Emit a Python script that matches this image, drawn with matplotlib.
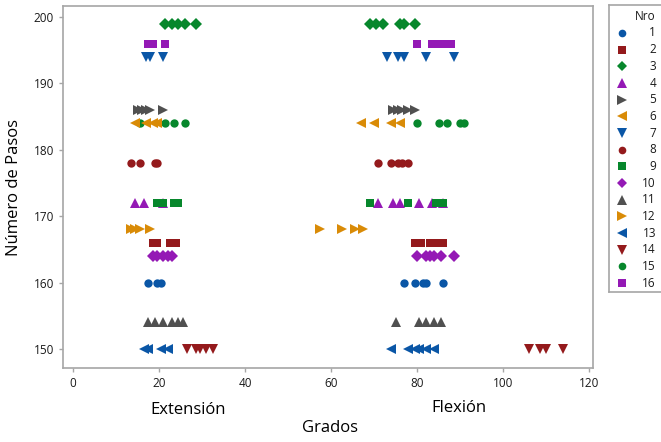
import matplotlib
matplotlib.use("Agg")
import matplotlib.pyplot as plt

plt.rcParams['font.family'] = ['Open Sans', 'DejaVu Sans']

# numero de pasos (eje y) de cada sujeto
nro = list(range(1, 17))
pasos = [160, 166, 199, 172, 186, 184, 194, 178, 172, 164, 154, 168, 150, 150, 184, 196]

# grados de extension y flexion de cada sujeto
extension = [
    [17.5, 19.5, 20.5],
    [18.5, 19.5, 22.5, 24],
    [21.5, 23, 24.5, 26, 28.5],
    [14.5, 16.5, 21],
    [15, 16, 17, 18, 21],
    [14.5, 17, 18.5, 19.5],
    [17, 18, 21],
    [13.5, 15.5, 19, 19.5],
    [19.5, 21, 23.5, 24.5],
    [18.5, 19.5, 21, 22, 23],
    [17.5, 19, 21, 23, 24.5, 25.5],
    [13.5, 14.5, 15.5, 18],
    [16.5, 17.5, 20.5, 22],
    [26.5, 28.5, 29.5, 31, 32.5],
    [15.5, 21.5, 23.5, 26],
    [17.5, 18.5, 21.5],
]
flexion = [
    [77, 79.5, 81.5, 82, 86],
    [79.5, 81, 83, 84.5, 86],
    [69, 70.5, 72, 76, 77, 79.5],
    [71, 74.5, 76, 80.5, 83.5, 86],
    [74.5, 75.5, 76.5, 78, 79.5],
    [67, 70, 74, 76],
    [73, 75.5, 77, 82, 88.5],
    [71, 74, 75.5, 76.5, 78],
    [69, 78, 84.5, 86],
    [80, 82, 83, 84, 85.5, 88.5],
    [75, 80.5, 82, 84, 85.5],
    [57.5, 62.5, 65.5, 67.5],
    [74, 78, 79.5, 80.5, 82, 84],
    [106, 108.5, 110, 114],
    [80, 85, 87, 90, 91],
    [80, 83.5, 85, 86.5, 88],
]

blue, red, green, purple, gray, orange = '#0a56a6', '#941a1c', '#07872c', '#9419b5', '#505050', '#d98b07'
colores = [blue, red, green, purple, gray, orange, blue, red, green, purple, gray, orange, blue, red, green, purple]
marcas = ['o', 's', 'D', '^', '>', '<', 'v', 'o', 's', 'D', '^', '>', '<', 'v', 'o', 's']
tamanos = [6, 6, 6, 7, 7, 7, 7, 6, 6, 6, 7, 7, 7, 7, 6, 6]

fig = plt.figure(figsize=(6.61, 4.42), dpi=100)
ax = fig.add_axes([63 / 661, 1 - 368 / 442, 530 / 661, 362 / 442])

for i in range(16):
    xs = extension[i] + flexion[i]
    ys = [pasos[i]] * len(xs)
    z = 3 if nro[i] == 6 else 2
    ax.plot(xs, ys, linestyle='none', marker=marcas[i], color=colores[i],
            markersize=tamanos[i], markeredgewidth=0, zorder=z)

ax.set_xlim(-2.33, 120.93)
ax.set_ylim(147.14, 201.66)
ax.set_xticks([0, 20, 40, 60, 80, 100, 120])
ax.set_yticks([150, 160, 170, 180, 190, 200])
for s in ax.spines.values():
    s.set_color('#a6a6a6')
    s.set_linewidth(1.2)
ax.tick_params(colors='#a6a6a6', labelcolor='#1a1a1a', labelsize=8.5, length=3, width=1)

ax.set_ylabel('Número de Pasos', fontsize=12, labelpad=8)
fig.text(188 / 661, 1 - 410 / 442, 'Extensión', fontsize=12, ha='center', va='center')
fig.text(459 / 661, 1 - 408 / 442, 'Flexión', fontsize=12, ha='center', va='center')
fig.text(330 / 661, 1 - 428 / 442, 'Grados', fontsize=12, ha='center', va='center')

# leyenda a mano (se sale por el borde derecho como en el original)
lax = fig.add_axes([609 / 661, 1 - 292 / 442, 62 / 661, 287 / 442])
lax.set_xlim(0, 62)
lax.set_ylim(287, 0)
lax.set_xticks([])
lax.set_yticks([])
for s in lax.spines.values():
    s.set_color('#a6a6a6')
    s.set_linewidth(1.2)
lax.text(47, 12, 'Nro', fontsize=8.5, ha='right', va='center', color='#1a1a1a')
for i in range(16):
    fila = 28 + 16.67 * i
    lax.plot([13], [fila], linestyle='none', marker=marcas[i], color=colores[i],
             markersize=tamanos[i] - 0.5, markeredgewidth=0)
    lax.text(47, fila, str(nro[i]), fontsize=8.5, ha='right', va='center', color='#1a1a1a')

fig.savefig('out.png', dpi=100)
